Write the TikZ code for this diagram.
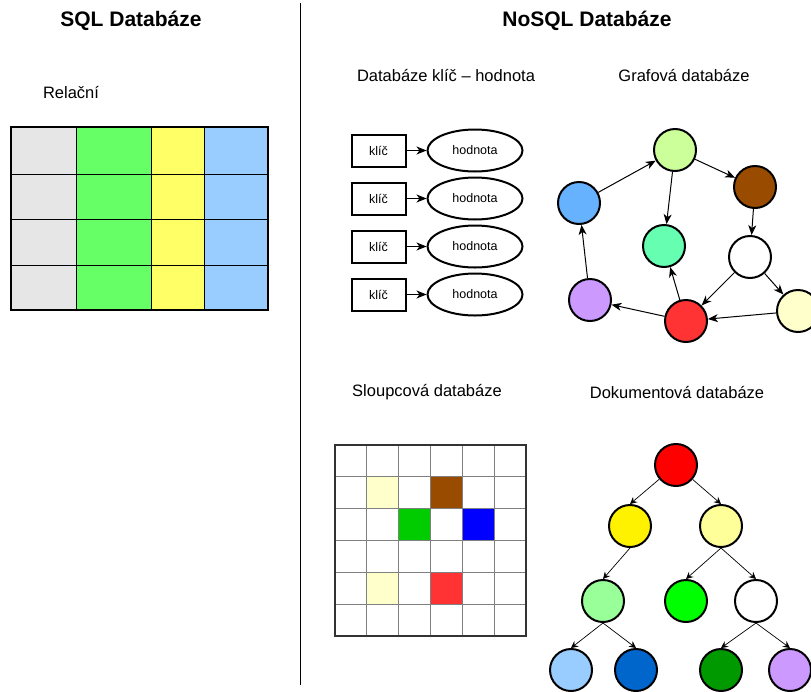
\documentclass[tikz,border=0pt]{standalone}
\usepackage{fontspec}
\setmainfont{Liberation Sans}
\usetikzlibrary{arrows.meta,shapes.geometric}

\definecolor{cellgray}{HTML}{E6E6E6}
\definecolor{cellgreen}{HTML}{66FF66}
\definecolor{cellyellow}{HTML}{FFFF66}
\definecolor{cellblue}{HTML}{99CCFF}
\definecolor{lime}{HTML}{CCFF99}
\definecolor{umber}{HTML}{994C00}
\definecolor{azure}{HTML}{66B2FF}
\definecolor{mint}{HTML}{66FFB2}
\definecolor{lilac}{HTML}{CC99FF}
\definecolor{coral}{HTML}{FF3333}
\definecolor{cream}{HTML}{FFFFCC}
\definecolor{gridline}{HTML}{808080}
\definecolor{gridframe}{HTML}{333333}
\definecolor{leaf}{HTML}{00CC00}
\definecolor{pale}{HTML}{FFFF99}
\definecolor{pastel}{HTML}{99FF99}
\definecolor{navy}{HTML}{0066CC}
\definecolor{forest}{HTML}{009900}

\tikzset{
  title/.style={font=\bfseries\fontsize{21}{25}\selectfont},
  caption/.style={font=\fontsize{16.5}{20}\selectfont},
  smalltext/.style={font=\fontsize{12.5}{15}\selectfont},
  keybox/.style={draw, line width=2pt, minimum width=54pt, minimum height=32pt, inner sep=0pt, smalltext},
  valbox/.style={draw, ellipse, line width=2pt, minimum width=95pt, minimum height=42pt, inner sep=0pt, smalltext},
  dbnode/.style={circle, draw, line width=2pt, minimum size=42pt, inner sep=0pt},
  link/.style={-{Stealth[length=10pt,width=8pt,inset=3pt]}, line width=1pt},
  treelink/.style={-{Stealth[length=7pt,width=7pt,inset=2.5pt]}, line width=0.7pt},
}

\begin{document}
\begin{tikzpicture}[x=1pt,y=1pt,yscale=-1]
  \useasboundingbox (0,0) rectangle (811,691);

  % titles
  \node[title] (sqltitle) at (131,21) {SQL Databáze};
  \node[title] (nosqltitle) at (587,21) {NoSQL Databáze};
  \draw[line width=1pt] (300,3) -- (300,685);

  % relational table
  \node[caption] (relcap) at (71,93) {Relační};
  \fill[cellgray] (11,127) rectangle (76,310);
  \fill[cellgreen] (76,127) rectangle (151,310);
  \fill[cellyellow] (151,127) rectangle (204,310);
  \fill[cellblue] (204,127) rectangle (268,310);
  \foreach \y in {174,219,265}
    \draw[line width=1pt] (11,\y) -- (268,\y);
  \foreach \x in {76,151,204}
    \draw[line width=1pt] (\x,127) -- (\x,310);
  \draw[line width=2pt] (11,127) rectangle (268,310);

  % key - value
  \node[caption] (kvcap) at (446,76) {Databáze klíč – hodnota};
  \foreach \i/\y in {1/150.5,2/198.5,3/246.5,4/294.5} {
    \node[keybox] (key\i) at (378.5,\y) {klíč};
    \node[valbox] (val\i) at (475,\y) {hodnota};
    \draw[link] (key\i) -- (val\i);
  }

  % graph
  \node[caption] (graphcap) at (684,76) {Grafová databáze};
  \node[dbnode, fill=lime] (gLime) at (675,150) {};
  \node[dbnode, fill=umber] (gBrown) at (755,187) {};
  \node[dbnode, fill=azure] (gBlue) at (579,203) {};
  \node[dbnode, fill=mint] (gTeal) at (664,246) {};
  \node[dbnode, fill=white] (gWhite) at (750,257) {};
  \node[dbnode, fill=lilac] (gViolet) at (590,300) {};
  \node[dbnode, fill=coral] (gRed) at (686,321) {};
  \node[dbnode, fill=cream] (gCream) at (798,311) {};
  \draw[link] (gBlue) -- (gLime);
  \draw[link] (gLime) -- (gBrown);
  \draw[link] (gLime) -- (gTeal);
  \draw[link] (gBrown) -- (gWhite);
  \draw[link] (gWhite) -- (gRed);
  \draw[link] (gWhite) -- (gCream);
  \draw[link] (gCream) -- (gRed);
  \draw[link] (gRed) -- (gTeal);
  \draw[link] (gRed) -- (gViolet);
  \draw[link] (gViolet) -- (gBlue);

  % column store
  \node[caption] (colcap) at (427,392) {Sloupcová databáze};
  \def\cell{31.833}
  \foreach \c/\r/\col in {1/1/cream,3/1/umber,2/2/leaf,4/2/blue,1/4/cream,3/4/coral}
    \fill[\col] (335+\c*\cell,445+\r*\cell) rectangle ++(\cell,\cell);
  \foreach \k in {1,...,5} {
    \draw[gridline, line width=1.3pt] (335+\k*\cell,445) -- (335+\k*\cell,636);
    \draw[gridline, line width=1.3pt] (335,445+\k*\cell) -- (526,445+\k*\cell);
  }
  \draw[gridframe, line width=2pt] (335,445) rectangle (526,636);

  % document tree
  \node[caption] (doccap) at (677,392) {Dokumentová databáze};
  \node[dbnode, fill=red] (tRed) at (676,465) {};
  \node[dbnode, fill=yellow] (tYellow) at (630,526) {};
  \node[dbnode, fill=pale] (tPale) at (721,526) {};
  \node[dbnode, fill=pastel] (tMint) at (603,601) {};
  \node[dbnode, fill=green] (tGreen) at (686,601) {};
  \node[dbnode, fill=white] (tWhite) at (756,601) {};
  \node[dbnode, fill=cellblue] (tSky) at (571,670) {};
  \node[dbnode, fill=navy] (tNavy) at (636,670) {};
  \node[dbnode, fill=forest] (tForest) at (721,670) {};
  \node[dbnode, fill=lilac] (tLilac) at (790,670) {};
  \draw[treelink] (tRed) -- (tYellow.north);
  \draw[treelink] (tRed) -- (tPale.north);
  \draw[treelink] (tYellow.south) -- (tMint.north);
  \draw[treelink] (tPale.south) -- (tGreen.north);
  \draw[treelink] (tPale.south) -- (tWhite.north);
  \draw[treelink] (tMint.south) -- (tSky.north);
  \draw[treelink] (tMint.south) -- (tNavy.north);
  \draw[treelink] (tWhite.south) -- (tForest.north);
  \draw[treelink] (tWhite.south) -- (tLilac.north);
\end{tikzpicture}
\end{document}
